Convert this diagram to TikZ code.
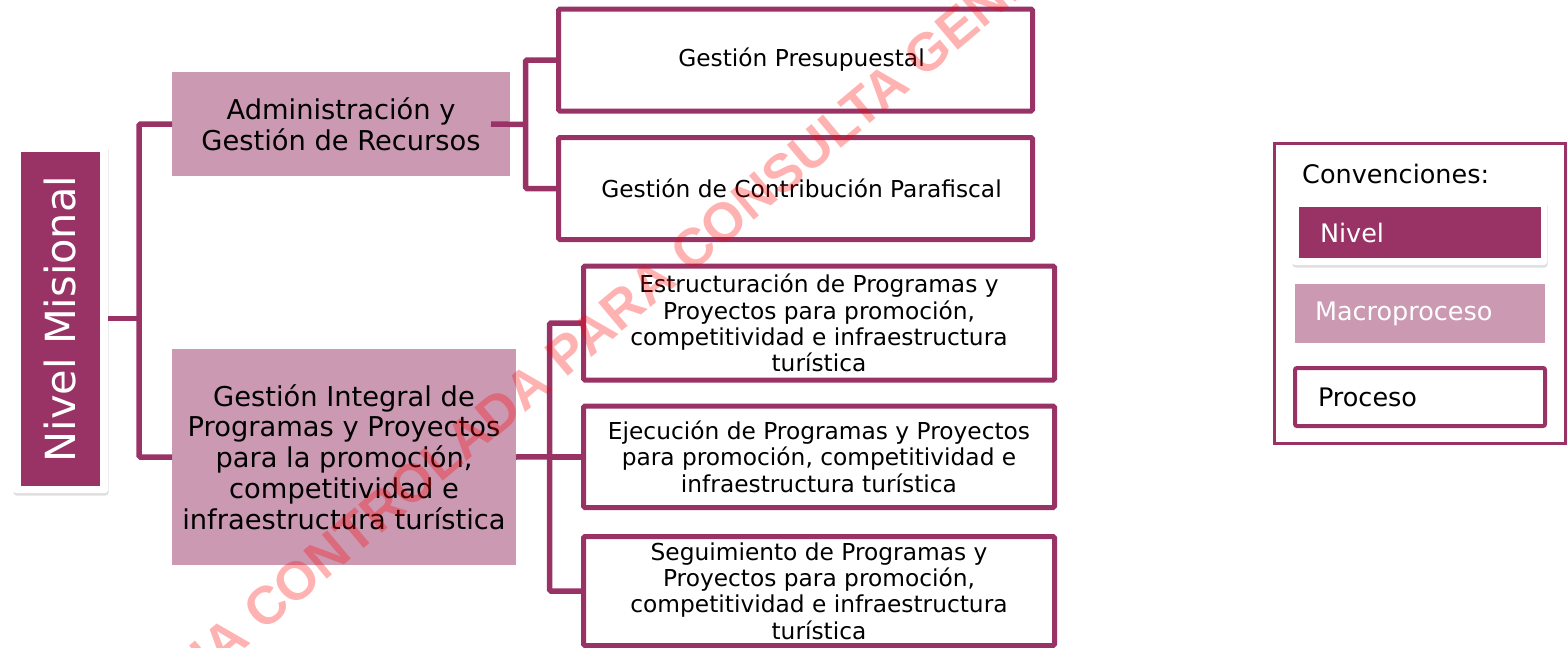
\documentclass[tikz,border=0pt]{standalone}
\usepackage{fontspec}
\setmainfont{DejaVu Sans}
\newfontfamily\wmfont{Liberation Sans}
\usetikzlibrary{shadows}
\definecolor{dark}{RGB}{153,51,102}
\definecolor{macro}{RGB}{204,153,179}
\begin{document}
\begin{tikzpicture}[x=1pt,y=-1pt,
  card/.style={fill=white, rounded corners=3pt, inner sep=0pt, outer sep=0pt,
    drop shadow={shadow xshift=0.5pt, shadow yshift=-2.5pt, opacity=0.25}},
  nivelbox/.style={fill=dark, text=white, inner sep=0pt, outer sep=0pt},
  macrobox/.style={fill=macro, inner sep=0pt, outer sep=0pt, align=center,
    font=\fontsize{27.3}{30.75}\selectfont},
  procbox/.style={draw=dark, line width=5pt, fill=white, rounded corners=1.5pt,
    inner sep=0pt, align=center, font=\fontsize{23.3}{26.3}\selectfont},
  conn/.style={draw=dark, line width=5.5pt, rounded corners=1.5pt},
  legfont/.style={font=\fontsize{25.5}{28}\selectfont},
  watermark/.style={font=\wmfont\bfseries\fontsize{53.5}{53.5}\selectfont,
    text=red, text opacity=0.3, rotate=40}
]
\useasboundingbox (0,0) rectangle (1567,648);
\clip (0,0) rectangle (1567,648);

% Nivel Misional
\node[card, minimum width=95pt, minimum height=349pt] (nivcard) at (60.5,318.5) {};
\node[nivelbox, rotate=90, minimum width=334pt, minimum height=79pt,
  font=\fontsize{41.5}{41.5}\selectfont] (nivel) at (60.5,319) {Nivel Misional};

% Macroprocesos
\node[macrobox, minimum width=338pt, minimum height=104pt] (adm) at (341,124)
  {Administración y\\Gestión de Recursos};
\node[macrobox, minimum width=344pt, minimum height=216pt] (gi) at (344,457)
  {Gestión Integral de\\Programas y Proyectos\\para la promoción,\\competitividad e\\infraestructura turística};

% Procesos
\node[procbox, minimum width=474pt, minimum height=102pt] (p1) at (795.5,60)
  {\hspace*{12pt}Gestión Presupuestal};
\node[procbox, minimum width=474pt, minimum height=102pt] (p2) at (795.5,188.5)
  {\hspace*{12pt}Gestión de Contribución Parafiscal};
\node[procbox, minimum width=471pt, minimum height=114pt] (p3) at (819,323)
  {Estructuración de Programas y\\Proyectos para promoción,\\competitividad e infraestructura\\turística};
\node[procbox, minimum width=471pt, minimum height=101.5pt] (p4) at (819,456.75)
  {Ejecución de Programas y Proyectos\\para promoción, competitividad e\\infraestructura turística};
\node[procbox, minimum width=471pt, minimum height=109pt] (p5) at (819,591)
  {Seguimiento de Programas y\\Proyectos para promoción,\\competitividad e infraestructura\\turística};

% Connectors
\coordinate (b1) at (139,318.5);
\coordinate (b2) at (525.5,124.5);
\coordinate (b3) at (549.5,456.75);
\draw[conn] (nivcard.east) -- (b1);
\draw[conn] (adm.west) -| (b1) |- (gi.west);
\draw[conn] ([xshift=-19pt]adm.east) -- (b2);
\draw[conn] (p1.west) -| (b2) |- (p2.west);
\draw[conn] (gi.east) -- (b3);
\draw[conn] (p3.west) -| (b3) |- (p5.west);
\draw[conn] (b3) -- (p4.west);

% Legend
\node[draw=dark, line width=3pt, minimum width=291pt, minimum height=300pt,
  inner sep=0pt] (leg) at (1420,293.5) {};
\node[legfont, anchor=west, inner sep=0pt] (conv) at (1302,174) {Convenciones:};
\node[card, minimum width=255pt, minimum height=65pt] (legcard) at (1419.5,232.5) {};
\node[nivelbox, legfont, minimum width=242pt, minimum height=51pt, text width=200pt,
  align=left] (legniv) at (1420,232.5) {Nivel};
\node[fill=macro, text=white, legfont, inner sep=0pt, minimum width=250pt,
  minimum height=59pt, text width=210pt, align=left] (legmac) at (1420,313.5) {Macroproceso};
\node[draw=dark, line width=4pt, fill=white, rounded corners=2pt, legfont, inner sep=0pt,
  minimum width=250pt, minimum height=58pt, text width=204pt, align=left] (legpro)
  at (1420,397) {Proceso};

% Watermark
\node[watermark] (wm) at (611,317) {COPIA CONTROLADA PARA CONSULTA GENERAL};
\end{tikzpicture}
\end{document}
